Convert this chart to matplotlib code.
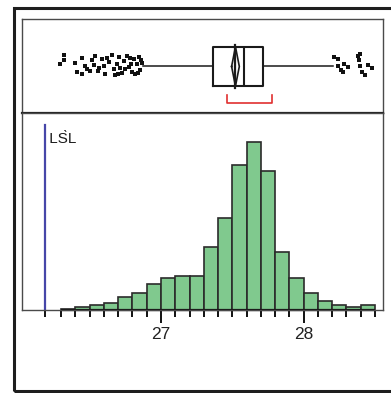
import numpy as np
import matplotlib
matplotlib.use("Agg")
import matplotlib.pyplot as plt
from matplotlib.patches import Rectangle

plt.rcParams['font.family'] = ['Liberation Sans Narrow', 'Liberation Sans', 'DejaVu Sans']

# ---------------- data ----------------
bin_edges = [26.3, 26.4, 26.5, 26.6, 26.7, 26.8, 26.9, 27.0, 27.1, 27.2, 27.3, 27.4,
             27.5, 27.6, 27.7, 27.8, 27.9, 28.0, 28.1, 28.2, 28.3, 28.4, 28.5]
counts = [1.2, 2.7, 5, 7.3, 13, 17.3, 25.7, 31.7, 34, 34, 62.7, 91.7,
          145, 167.7, 139, 58.3, 31.7, 17.3, 9, 4.7, 3, 4.7]

q1, median, q3 = 27.367, 27.584, 27.717
whisker_lo, whisker_hi = 26.876, 28.207
mean, mean_ci_half = 27.522, 0.027
shortest_half = (27.460, 27.776)
lsl = 26.19

outliers_x = [26.294, 26.318, 26.322, 26.395, 26.411, 26.446, 26.470, 26.505, 26.516,
              26.540, 26.563, 26.587, 26.610, 26.633, 26.657, 26.669, 26.692, 26.704,
              26.727, 26.739, 26.762, 26.774, 26.797, 26.809, 26.832, 26.844, 26.855,
              26.867, 26.450, 26.600, 26.680, 26.750, 26.820, 26.780, 26.560,
              26.480, 26.530, 26.620, 26.715, 26.790, 26.840, 26.860, 26.700,
              28.214, 28.238, 28.242, 28.261, 28.278, 28.285, 28.308, 28.383, 28.388,
              28.392, 28.406, 28.430, 28.449, 28.477, 28.395]
outliers_jitter = [0.52, 0.62, 0.56, 0.53, 0.44, 0.58, 0.50, 0.45, 0.56,
                   0.61, 0.48, 0.57, 0.42, 0.54, 0.62, 0.47, 0.52, 0.60,
                   0.43, 0.55, 0.61, 0.49, 0.44, 0.57, 0.52, 0.60, 0.46,
                   0.53, 0.41, 0.50, 0.40, 0.47, 0.42, 0.59, 0.45,
                   0.47, 0.51, 0.58, 0.48, 0.52, 0.43, 0.56, 0.41,
                   0.60, 0.57, 0.50, 0.46, 0.44, 0.52, 0.49, 0.61, 0.56,
                   0.50, 0.44, 0.40, 0.51, 0.48, 0.63]

xticks_major = [27, 28]
xtick_labels = ["27", "28"]
xticks_minor = [26.3, 26.4, 26.5, 26.6, 26.7, 26.8, 26.9, 27.0, 27.1, 27.2, 27.3, 27.4,
                27.5, 27.6, 27.7, 27.8, 27.9, 28.0, 28.1, 28.2, 28.3, 28.4, 28.5]

# ---------------- layout ----------------
W, H = 391, 393
fig = plt.figure(figsize=(W / 100, H / 100), dpi=100)
fig.patch.set_facecolor('white')

def fr(x0, y0, x1, y1):
    return [x0 / W, 1 - y1 / H, (x1 - x0) / W, (y1 - y0) / H]

ax_box = fig.add_axes(fr(22, 19, 383, 113))
ax_hist = fig.add_axes(fr(22, 113, 383, 310))
xlim = (26.026, 28.556)

spine_col = '#4a4a4a'
for ax in (ax_box, ax_hist):
    ax.set_xlim(*xlim)
    for s in ax.spines.values():
        s.set_color(spine_col)
        s.set_linewidth(1.0)

# ---- box plot panel ----
ax_box.set_ylim(0, 1)
ax_box.set_xticks([])
ax_box.set_yticks([])
ax_box.spines['bottom'].set_linewidth(1.6)
ax_box.spines['bottom'].set_color('#222222')
stats = [dict(med=median, q1=q1, q3=q3, whislo=whisker_lo, whishi=whisker_hi, fliers=[])]
lp = dict(color='#1a1a1a', linewidth=1.5)
ax_box.bxp(stats, positions=[0.495], widths=0.42, orientation='horizontal',
           showcaps=False, showfliers=False,
           boxprops=lp, whiskerprops=dict(color='#1a1a1a', linewidth=1.1),
           medianprops=lp, manage_ticks=False)
# mean diamond
dx = [mean - mean_ci_half, mean, mean + mean_ci_half, mean, mean - mean_ci_half]
dy = [0.495, 0.705, 0.495, 0.285, 0.495]
ax_box.plot(dx, dy, color='#1a1a1a', lw=1.2)
ax_box.plot([mean, mean], [0.266, 0.723], color='#1a1a1a', lw=1.6)
# shortest half bracket
ax_box.plot([shortest_half[0], shortest_half[0], shortest_half[1], shortest_half[1]],
            [0.19, 0.11, 0.11, 0.19], color='#e03030', lw=1.2)
# outliers
ax_box.plot(outliers_x, outliers_jitter, 's', color='#111111', ms=3.4, mew=0)

# ---- histogram panel ----
widths = np.diff(bin_edges)
ax_hist.bar(bin_edges[:-1], counts, width=widths, align='edge',
            color='#80c98e', edgecolor='#2b2b2b', linewidth=1.2)
ax_hist.set_ylim(0, 197)
ax_hist.set_yticks([])
ax_hist.axvline(lsl, ymin=0, ymax=0.939, color='#4646a8', lw=1.6)
ax_hist.text(lsl, 171, " LS\u0300L", ha='left', va='center', fontsize=11, color='#1a1a1a')

ax_hist.set_xticks(xticks_major)
ax_hist.set_xticklabels(xtick_labels, fontsize=12.5, color='#222222')
ax_hist.set_xticks(xticks_minor + [lsl], minor=True)
ax_hist.tick_params(axis='x', which='major', length=9.4, width=1.4, color='#111111', pad=3)
ax_hist.tick_params(axis='x', which='minor', length=5, width=1.4, color='#111111')
ax_hist.hlines(0, bin_edges[0], bin_edges[-1], color='#111111', lw=1.6, clip_on=False)

# outer frame
fig.add_artist(Rectangle((14 / W, 1 - 391 / H), (420 - 14) / W, (391 - 8) / H,
                         transform=fig.transFigure, fill=False, lw=2.2,
                         edgecolor='#1e1e1e'))

fig.savefig('out.png', dpi=100, facecolor='white')
